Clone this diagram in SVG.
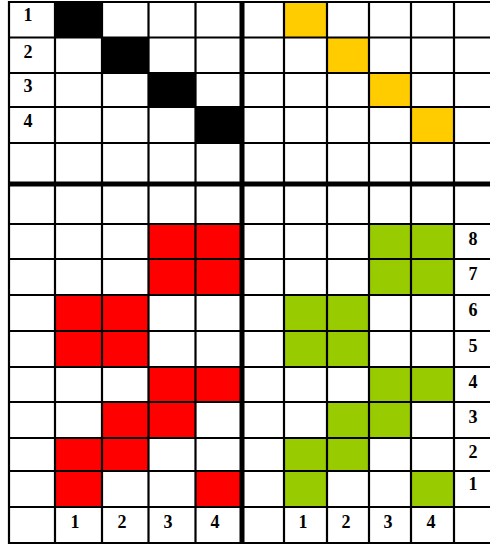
<svg xmlns="http://www.w3.org/2000/svg" width="490" height="550" viewBox="0 0 490 550">
<style>
.bk{fill:#000}
.ye{fill:#FFCC00}
.rd{fill:#FF0000}
.gr{fill:#99CC00}
.ln{stroke:#000;stroke-width:2.2;fill:none}
.thick{stroke:#000;stroke-width:5;fill:none}
.lbl{font-family:"Liberation Serif","Times New Roman",serif;font-weight:bold;font-size:18px;fill:#000;text-anchor:middle}
</style>
<rect x="0" y="0" width="490" height="550" fill="#fff"/>
<g id="black-cells">
<rect class="bk" x="55" y="2" width="47" height="35.5"/>
<rect class="bk" x="102" y="37.5" width="46.5" height="35.5"/>
<rect class="bk" x="148.5" y="73" width="47" height="34"/>
<rect class="bk" x="195.5" y="107" width="46.5" height="36"/>
</g>
<g id="yellow-cells">
<rect class="ye" x="284" y="2" width="43" height="35.5"/>
<rect class="ye" x="327" y="37.5" width="42" height="35.5"/>
<rect class="ye" x="369" y="73" width="42" height="34"/>
<rect class="ye" x="411" y="107" width="43" height="36"/>
</g>
<g id="red-cells">
<rect class="rd" x="148.5" y="224" width="93.5" height="71"/>
<rect class="rd" x="55" y="295" width="93.5" height="72"/>
<rect class="rd" x="148.5" y="367" width="93.5" height="35"/>
<rect class="rd" x="102" y="402" width="93.5" height="36"/>
<rect class="rd" x="55" y="438" width="93.5" height="33"/>
<rect class="rd" x="55" y="471" width="47" height="36"/>
<rect class="rd" x="195.5" y="471" width="46.5" height="36"/>
</g>
<g id="green-cells">
<rect class="gr" x="369" y="224" width="85" height="71"/>
<rect class="gr" x="284" y="295" width="85" height="72"/>
<rect class="gr" x="369" y="367" width="85" height="35"/>
<rect class="gr" x="327" y="402" width="84" height="36"/>
<rect class="gr" x="284" y="438" width="85" height="33"/>
<rect class="gr" x="284" y="471" width="43" height="36"/>
<rect class="gr" x="411" y="471" width="43" height="36"/>
</g>
<g id="grid-lines">
<path class="ln" d="M9 2H490M9 37.5H490M9 73H490M9 107H490M9 143H490M9 224H490M9 259H490M9 295H490M9 331H490M9 367H490M9 402H490M9 438H490M9 471H490M9 507H490M9 543H490"/>
<path class="ln" d="M9 1V544M55 1V544M102 1V544M148.5 1V544M195.5 1V544M284 1V544M327 1V544M369 1V544M411 1V544M454 1V544"/>
<path class="thick" d="M9 184H490M242 1V544"/>
</g>
<g id="labels">
<text class="lbl" x="28" y="21">1</text>
<text class="lbl" x="28" y="58">2</text>
<text class="lbl" x="28" y="92">3</text>
<text class="lbl" x="28" y="127">4</text>
<text class="lbl" x="75" y="528">1</text>
<text class="lbl" x="122" y="528">2</text>
<text class="lbl" x="168" y="528">3</text>
<text class="lbl" x="215" y="528">4</text>
<text class="lbl" x="303" y="528">1</text>
<text class="lbl" x="346" y="528">2</text>
<text class="lbl" x="388" y="528">3</text>
<text class="lbl" x="431" y="528">4</text>
<text class="lbl" x="473" y="245">8</text>
<text class="lbl" x="473" y="280">7</text>
<text class="lbl" x="473" y="316">6</text>
<text class="lbl" x="473" y="352">5</text>
<text class="lbl" x="473" y="388">4</text>
<text class="lbl" x="473" y="423">3</text>
<text class="lbl" x="473" y="458">2</text>
<text class="lbl" x="473" y="490">1</text>
</g>
</svg>
